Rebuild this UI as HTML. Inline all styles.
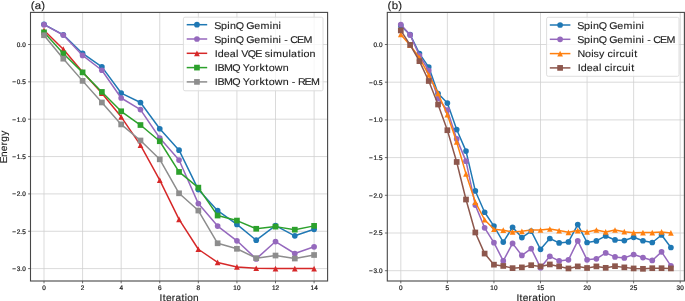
<!DOCTYPE html>
<html><head><meta charset="utf-8"><title>VQE energy vs iteration</title>
<style>
html,body{margin:0;padding:0;background:#ffffff;}
body{width:685px;height:301px;overflow:hidden;}
svg{display:block;}
text{font-family:"Liberation Sans",sans-serif;text-rendering:geometricPrecision;font-kerning:none;}
</style></head><body>
<svg width="685" height="301" viewBox="0 0 685 301">
<defs>
<clipPath id="ca"><rect x="30.5" y="12.4" width="297.1" height="268.6"/></clipPath>
<clipPath id="cb"><rect x="387.3" y="12.4" width="297.1" height="268.6"/></clipPath>
<filter id="bl" filterUnits="userSpaceOnUse" x="0" y="0" width="685" height="301"><feGaussianBlur stdDeviation="0.3"/></filter>
</defs>
<rect width="685" height="301" fill="#ffffff"/>
<g opacity="0.99" filter="url(#bl)">
<path d="M44 12.4V281M82.59 12.4V281M121.17 12.4V281M159.76 12.4V281M198.34 12.4V281M236.93 12.4V281M275.51 12.4V281M314.1 12.4V281M30.5 44.5H327.6M30.5 81.85H327.6M30.5 119.2H327.6M30.5 156.55H327.6M30.5 193.9H327.6M30.5 231.25H327.6M30.5 268.6H327.6" stroke="#cfcfcf" stroke-width="0.8" fill="none"/>
<g clip-path="url(#ca)">
<polyline fill="none" stroke="#1f77b4" stroke-width="1.5" stroke-linejoin="round" points="44,24.33 63.3,34.79 82.59,53.46 101.88,66.91 121.17,93.06 140.47,102.54 159.76,128.76 179.05,150.13 198.34,189.57 217.63,210.71 236.93,224.38 256.22,240.21 275.51,225.57 294.8,235.81 314.1,229.31"/>
<circle cx="44" cy="24.33" r="2.85" fill="#1f77b4"/>
<circle cx="63.3" cy="34.79" r="2.85" fill="#1f77b4"/>
<circle cx="82.59" cy="53.46" r="2.85" fill="#1f77b4"/>
<circle cx="101.88" cy="66.91" r="2.85" fill="#1f77b4"/>
<circle cx="121.17" cy="93.06" r="2.85" fill="#1f77b4"/>
<circle cx="140.47" cy="102.54" r="2.85" fill="#1f77b4"/>
<circle cx="159.76" cy="128.76" r="2.85" fill="#1f77b4"/>
<circle cx="179.05" cy="150.13" r="2.85" fill="#1f77b4"/>
<circle cx="198.34" cy="189.57" r="2.85" fill="#1f77b4"/>
<circle cx="217.63" cy="210.71" r="2.85" fill="#1f77b4"/>
<circle cx="236.93" cy="224.38" r="2.85" fill="#1f77b4"/>
<circle cx="256.22" cy="240.21" r="2.85" fill="#1f77b4"/>
<circle cx="275.51" cy="225.57" r="2.85" fill="#1f77b4"/>
<circle cx="294.8" cy="235.81" r="2.85" fill="#1f77b4"/>
<circle cx="314.1" cy="229.31" r="2.85" fill="#1f77b4"/>
<polyline fill="none" stroke="#9467bd" stroke-width="1.5" stroke-linejoin="round" points="44,24.7 63.3,35.01 82.59,55.41 101.88,70.27 121.17,97.99 140.47,109.56 159.76,138.02 179.05,160.06 198.34,203.61 217.63,226.1 236.93,240.81 256.22,258.89 275.51,241.56 294.8,253.51 314.1,246.79"/>
<circle cx="44" cy="24.7" r="2.85" fill="#9467bd"/>
<circle cx="63.3" cy="35.01" r="2.85" fill="#9467bd"/>
<circle cx="82.59" cy="55.41" r="2.85" fill="#9467bd"/>
<circle cx="101.88" cy="70.27" r="2.85" fill="#9467bd"/>
<circle cx="121.17" cy="97.99" r="2.85" fill="#9467bd"/>
<circle cx="140.47" cy="109.56" r="2.85" fill="#9467bd"/>
<circle cx="159.76" cy="138.02" r="2.85" fill="#9467bd"/>
<circle cx="179.05" cy="160.06" r="2.85" fill="#9467bd"/>
<circle cx="198.34" cy="203.61" r="2.85" fill="#9467bd"/>
<circle cx="217.63" cy="226.1" r="2.85" fill="#9467bd"/>
<circle cx="236.93" cy="240.81" r="2.85" fill="#9467bd"/>
<circle cx="256.22" cy="258.89" r="2.85" fill="#9467bd"/>
<circle cx="275.51" cy="241.56" r="2.85" fill="#9467bd"/>
<circle cx="294.8" cy="253.51" r="2.85" fill="#9467bd"/>
<circle cx="314.1" cy="246.79" r="2.85" fill="#9467bd"/>
<polyline fill="none" stroke="#d62728" stroke-width="1.5" stroke-linejoin="round" points="44,30.31 63.3,49.21 82.59,71.99 101.88,93.2 121.17,116.81 140.47,145.05 159.76,180.08 179.05,219.3 198.34,249.25 217.63,262.47 236.93,266.96 256.22,268.23 275.51,268.6 294.8,268.6 314.1,268.6"/>
<path d="M44 27.46L46.85 33.16L41.15 33.16Z" fill="#d62728"/>
<path d="M63.3 46.36L66.15 52.06L60.45 52.06Z" fill="#d62728"/>
<path d="M82.59 69.14L85.44 74.84L79.74 74.84Z" fill="#d62728"/>
<path d="M101.88 90.35L104.73 96.05L99.03 96.05Z" fill="#d62728"/>
<path d="M121.17 113.96L124.02 119.66L118.32 119.66Z" fill="#d62728"/>
<path d="M140.47 142.2L143.32 147.9L137.62 147.9Z" fill="#d62728"/>
<path d="M159.76 177.23L162.61 182.93L156.91 182.93Z" fill="#d62728"/>
<path d="M179.05 216.45L181.9 222.15L176.2 222.15Z" fill="#d62728"/>
<path d="M198.34 246.4L201.19 252.1L195.49 252.1Z" fill="#d62728"/>
<path d="M217.63 259.62L220.48 265.32L214.78 265.32Z" fill="#d62728"/>
<path d="M236.93 264.11L239.78 269.81L234.08 269.81Z" fill="#d62728"/>
<path d="M256.22 265.38L259.07 271.08L253.37 271.08Z" fill="#d62728"/>
<path d="M275.51 265.75L278.36 271.45L272.66 271.45Z" fill="#d62728"/>
<path d="M294.8 265.75L297.65 271.45L291.95 271.45Z" fill="#d62728"/>
<path d="M314.1 265.75L316.95 271.45L311.25 271.45Z" fill="#d62728"/>
<polyline fill="none" stroke="#2ca02c" stroke-width="1.5" stroke-linejoin="round" points="44,32.32 63.3,53.46 82.59,72.36 101.88,91.93 121.17,111.28 140.47,125.03 159.76,141.24 179.05,171.94 198.34,187.63 217.63,215.56 236.93,220.57 256.22,228.78 275.51,226.62 294.8,229.68 314.1,225.87"/>
<rect x="41.15" y="29.47" width="5.7" height="5.7" fill="#2ca02c"/>
<rect x="60.45" y="50.61" width="5.7" height="5.7" fill="#2ca02c"/>
<rect x="79.74" y="69.51" width="5.7" height="5.7" fill="#2ca02c"/>
<rect x="99.03" y="89.08" width="5.7" height="5.7" fill="#2ca02c"/>
<rect x="118.32" y="108.43" width="5.7" height="5.7" fill="#2ca02c"/>
<rect x="137.62" y="122.18" width="5.7" height="5.7" fill="#2ca02c"/>
<rect x="156.91" y="138.39" width="5.7" height="5.7" fill="#2ca02c"/>
<rect x="176.2" y="169.09" width="5.7" height="5.7" fill="#2ca02c"/>
<rect x="195.49" y="184.78" width="5.7" height="5.7" fill="#2ca02c"/>
<rect x="214.78" y="212.71" width="5.7" height="5.7" fill="#2ca02c"/>
<rect x="234.08" y="217.72" width="5.7" height="5.7" fill="#2ca02c"/>
<rect x="253.37" y="225.93" width="5.7" height="5.7" fill="#2ca02c"/>
<rect x="272.66" y="223.77" width="5.7" height="5.7" fill="#2ca02c"/>
<rect x="291.95" y="226.83" width="5.7" height="5.7" fill="#2ca02c"/>
<rect x="311.25" y="223.02" width="5.7" height="5.7" fill="#2ca02c"/>
<polyline fill="none" stroke="#8c8c8c" stroke-width="1.5" stroke-linejoin="round" points="44,35.24 63.3,58.69 82.59,80.88 101.88,102.47 121.17,124.43 140.47,140.49 159.76,159.31 179.05,193.3 198.34,210.56 217.63,243.28 236.93,248.8 256.22,258.14 275.51,255.53 294.8,258.52 314.1,255"/>
<rect x="41.15" y="32.39" width="5.7" height="5.7" fill="#8c8c8c"/>
<rect x="60.45" y="55.84" width="5.7" height="5.7" fill="#8c8c8c"/>
<rect x="79.74" y="78.03" width="5.7" height="5.7" fill="#8c8c8c"/>
<rect x="99.03" y="99.62" width="5.7" height="5.7" fill="#8c8c8c"/>
<rect x="118.32" y="121.58" width="5.7" height="5.7" fill="#8c8c8c"/>
<rect x="137.62" y="137.64" width="5.7" height="5.7" fill="#8c8c8c"/>
<rect x="156.91" y="156.46" width="5.7" height="5.7" fill="#8c8c8c"/>
<rect x="176.2" y="190.45" width="5.7" height="5.7" fill="#8c8c8c"/>
<rect x="195.49" y="207.71" width="5.7" height="5.7" fill="#8c8c8c"/>
<rect x="214.78" y="240.43" width="5.7" height="5.7" fill="#8c8c8c"/>
<rect x="234.08" y="245.95" width="5.7" height="5.7" fill="#8c8c8c"/>
<rect x="253.37" y="255.29" width="5.7" height="5.7" fill="#8c8c8c"/>
<rect x="272.66" y="252.68" width="5.7" height="5.7" fill="#8c8c8c"/>
<rect x="291.95" y="255.67" width="5.7" height="5.7" fill="#8c8c8c"/>
<rect x="311.25" y="252.15" width="5.7" height="5.7" fill="#8c8c8c"/>
</g>
<text transform="translate(42.16 290.1) scale(0.11000 0.11400)" x="0.64" font-size="58" fill="#1a1a1a" stroke="#1a1a1a" stroke-width="2">0</text>
<text transform="translate(80.74 290.1) scale(0.11000 0.11400)" x="0.64" font-size="58" fill="#1a1a1a" stroke="#1a1a1a" stroke-width="2">2</text>
<text transform="translate(119.33 290.1) scale(0.11000 0.11400)" x="0.64" font-size="58" fill="#1a1a1a" stroke="#1a1a1a" stroke-width="2">4</text>
<text transform="translate(157.91 290.1) scale(0.11000 0.11400)" x="0.64" font-size="58" fill="#1a1a1a" stroke="#1a1a1a" stroke-width="2">6</text>
<text transform="translate(196.5 290.1) scale(0.11000 0.11400)" x="0.64" font-size="58" fill="#1a1a1a" stroke="#1a1a1a" stroke-width="2">8</text>
<text transform="translate(233.24 290.1) scale(0.11000 0.11400)" x="0.64 34.17" font-size="58" fill="#1a1a1a" stroke="#1a1a1a" stroke-width="2">10</text>
<text transform="translate(271.82 290.1) scale(0.11000 0.11400)" x="0.64 34.17" font-size="58" fill="#1a1a1a" stroke="#1a1a1a" stroke-width="2">12</text>
<text transform="translate(310.41 290.1) scale(0.11000 0.11400)" x="0.64 34.17" font-size="58" fill="#1a1a1a" stroke="#1a1a1a" stroke-width="2">14</text>
<text transform="translate(16.58 46.9) scale(0.11000 0.11400)" x="0.64 33.86 50.94" font-size="58" fill="#1a1a1a" stroke="#1a1a1a" stroke-width="2">0.0</text>
<text transform="translate(11.72 84.25) scale(0.11000 0.11400)" x="5.16 44.82 78.05 95.12" font-size="58" fill="#1a1a1a" stroke="#1a1a1a" stroke-width="2">−0.5</text>
<text transform="translate(11.72 121.6) scale(0.11000 0.11400)" x="5.16 44.82 78.05 95.12" font-size="58" fill="#1a1a1a" stroke="#1a1a1a" stroke-width="2">−1.0</text>
<text transform="translate(11.72 158.95) scale(0.11000 0.11400)" x="5.16 44.82 78.05 95.12" font-size="58" fill="#1a1a1a" stroke="#1a1a1a" stroke-width="2">−1.5</text>
<text transform="translate(11.72 196.3) scale(0.11000 0.11400)" x="5.16 44.82 78.05 95.12" font-size="58" fill="#1a1a1a" stroke="#1a1a1a" stroke-width="2">−2.0</text>
<text transform="translate(11.72 233.65) scale(0.11000 0.11400)" x="5.16 44.82 78.05 95.12" font-size="58" fill="#1a1a1a" stroke="#1a1a1a" stroke-width="2">−2.5</text>
<text transform="translate(11.72 271) scale(0.11000 0.11400)" x="5.16 44.82 78.05 95.12" font-size="58" fill="#1a1a1a" stroke="#1a1a1a" stroke-width="2">−3.0</text>
<path d="M44 281v2.3M82.59 281v2.3M121.17 281v2.3M159.76 281v2.3M198.34 281v2.3M236.93 281v2.3M275.51 281v2.3M314.1 281v2.3M30.5 44.5h-2.4M30.5 81.85h-2.4M30.5 119.2h-2.4M30.5 156.55h-2.4M30.5 193.9h-2.4M30.5 231.25h-2.4M30.5 268.6h-2.4" stroke="#454545" stroke-width="0.8" fill="none"/>
<rect x="30.5" y="12.4" width="297.1" height="268.6" fill="none" stroke="#454545" stroke-width="1.1"/>
<text transform="translate(30.7 8.5) scale(0.11000 0.10200)" x="1.12 36.93 95.95" font-size="104" fill="#1a1a1a" stroke="#1a1a1a" stroke-width="1.2">(a)</text>
<text transform="translate(159.64 300.9) scale(0.11000 0.10700)" x="-0.44 28.29 57.59 110.76 143.32 198.15 228.73 250.58 302.69" font-size="92" fill="#1a1a1a" stroke="#1a1a1a" stroke-width="1.2">Iteration</text>
<text transform="translate(6.7 146.7) rotate(-90) translate(-16.19 0) scale(0.11000 0.10700)" x="-4.25 53.79 106.02 159.19 192.66 246.56" font-size="92" fill="#1a1a1a" stroke="#1a1a1a" stroke-width="1.2">Energy</text>
<rect x="183.4" y="17.2" width="139.6" height="73.6" rx="1.6" ry="1.6" fill="#ffffff" fill-opacity="0.8" stroke="#dadada" stroke-width="0.9"/>
<path d="M186.7 24.7H207.2" stroke="#1f77b4" stroke-width="1.5"/>
<circle cx="196.95" cy="24.7" r="2.85" fill="#1f77b4"/>
<text transform="translate(214.8 28.5) scale(0.11000 0.10200)" x="-4.35 57.02 113.47 137.48 189.39 262.36 286.3 358.33 414.97 499.8 523.81 580.22" font-size="97" fill="#1a1a1a" stroke="#1a1a1a" stroke-width="1.2">SpinQ Gemini</text>
<path d="M186.7 39H207.2" stroke="#9467bd" stroke-width="1.5"/>
<circle cx="196.95" cy="39" r="2.85" fill="#9467bd"/>
<text transform="translate(214.8 42.7) scale(0.11000 0.10200)" x="-4.35 57.02 113.47 137.48 189.39 262.36 286.3 358.33 414.97 499.8 523.81 580.22 603.8 631.06 663.67 686.92 748.24 806.1" font-size="97" fill="#1a1a1a" stroke="#1a1a1a" stroke-width="1.2">SpinQ Gemini - CEM</text>
<path d="M186.7 53.3H207.2" stroke="#d62728" stroke-width="1.5"/>
<path d="M196.95 50.45L199.8 56.15L194.1 56.15Z" fill="#d62728"/>
<text transform="translate(214.8 56.9) scale(0.11000 0.10200)" x="-0.47 27.04 82.15 136.29 191.78 215.36 240.66 300.15 368.08 428.85 455.06 503.76 529.34 613.67 670.08 693.16 750.97 783.21 806.25 861.19" font-size="97" fill="#1a1a1a" stroke="#1a1a1a" stroke-width="1.2">Ideal VQE simulation</text>
<path d="M186.7 67.6H207.2" stroke="#2ca02c" stroke-width="1.5"/>
<rect x="194.1" y="64.75" width="5.7" height="5.7" fill="#2ca02c"/>
<text transform="translate(214.8 71.1) scale(0.11000 0.10200)" x="-0.47 23.91 84.16 159.58 232.55 254.64 313.94 369.87 405.42 459 489.77 544.77 616.84" font-size="97" fill="#1a1a1a" stroke="#1a1a1a" stroke-width="1.2">IBMQ Yorktown</text>
<path d="M186.7 81.9H207.2" stroke="#8c8c8c" stroke-width="1.5"/>
<rect x="194.1" y="79.05" width="5.7" height="5.7" fill="#8c8c8c"/>
<text transform="translate(214.8 85.3) scale(0.11000 0.10200)" x="-0.47 23.91 84.16 159.58 232.55 254.64 313.94 369.87 405.42 459 489.77 544.77 616.84 672.32 699.58 732.19 755.3 816.49 874.35" font-size="97" fill="#1a1a1a" stroke="#1a1a1a" stroke-width="1.2">IBMQ Yorktown - REM</text>
<path d="M400.8 12.4V281M447.37 12.4V281M493.94 12.4V281M540.51 12.4V281M587.07 12.4V281M633.64 12.4V281M680.21 12.4V281M387.3 44.5H684.4M387.3 82.2H684.4M387.3 119.9H684.4M387.3 157.6H684.4M387.3 195.3H684.4M387.3 233H684.4M387.3 270.7H684.4" stroke="#cfcfcf" stroke-width="0.8" fill="none"/>
<g clip-path="url(#cb)">
<polyline fill="none" stroke="#1f77b4" stroke-width="1.5" stroke-linejoin="round" points="400.8,25.65 410.12,34.7 419.43,53.55 428.74,67.12 438.06,93.51 447.37,103.09 456.69,129.55 466,151.12 475.31,190.93 484.63,212.27 493.94,226.06 503.25,242.05 512.57,227.27 521.88,237.6 531.19,231.04 540.51,249.29 549.82,238.5 559.13,242.88 568.45,241.9 577.76,224.56 587.07,242.5 596.39,240.92 605.7,235.94 615.01,239.94 624.33,240.54 633.64,237.3 642.96,240.77 652.27,242.5 661.58,234.96 670.9,247.48"/>
<circle cx="400.8" cy="25.65" r="2.85" fill="#1f77b4"/>
<circle cx="410.12" cy="34.7" r="2.85" fill="#1f77b4"/>
<circle cx="419.43" cy="53.55" r="2.85" fill="#1f77b4"/>
<circle cx="428.74" cy="67.12" r="2.85" fill="#1f77b4"/>
<circle cx="438.06" cy="93.51" r="2.85" fill="#1f77b4"/>
<circle cx="447.37" cy="103.09" r="2.85" fill="#1f77b4"/>
<circle cx="456.69" cy="129.55" r="2.85" fill="#1f77b4"/>
<circle cx="466" cy="151.12" r="2.85" fill="#1f77b4"/>
<circle cx="475.31" cy="190.93" r="2.85" fill="#1f77b4"/>
<circle cx="484.63" cy="212.27" r="2.85" fill="#1f77b4"/>
<circle cx="493.94" cy="226.06" r="2.85" fill="#1f77b4"/>
<circle cx="503.25" cy="242.05" r="2.85" fill="#1f77b4"/>
<circle cx="512.57" cy="227.27" r="2.85" fill="#1f77b4"/>
<circle cx="521.88" cy="237.6" r="2.85" fill="#1f77b4"/>
<circle cx="531.19" cy="231.04" r="2.85" fill="#1f77b4"/>
<circle cx="540.51" cy="249.29" r="2.85" fill="#1f77b4"/>
<circle cx="549.82" cy="238.5" r="2.85" fill="#1f77b4"/>
<circle cx="559.13" cy="242.88" r="2.85" fill="#1f77b4"/>
<circle cx="568.45" cy="241.9" r="2.85" fill="#1f77b4"/>
<circle cx="577.76" cy="224.56" r="2.85" fill="#1f77b4"/>
<circle cx="587.07" cy="242.5" r="2.85" fill="#1f77b4"/>
<circle cx="596.39" cy="240.92" r="2.85" fill="#1f77b4"/>
<circle cx="605.7" cy="235.94" r="2.85" fill="#1f77b4"/>
<circle cx="615.01" cy="239.94" r="2.85" fill="#1f77b4"/>
<circle cx="624.33" cy="240.54" r="2.85" fill="#1f77b4"/>
<circle cx="633.64" cy="237.3" r="2.85" fill="#1f77b4"/>
<circle cx="642.96" cy="240.77" r="2.85" fill="#1f77b4"/>
<circle cx="652.27" cy="242.5" r="2.85" fill="#1f77b4"/>
<circle cx="661.58" cy="234.96" r="2.85" fill="#1f77b4"/>
<circle cx="670.9" cy="247.48" r="2.85" fill="#1f77b4"/>
<polyline fill="none" stroke="#9467bd" stroke-width="1.5" stroke-linejoin="round" points="400.8,24.52 410.12,34.92 419.43,55.51 428.74,70.51 438.06,98.49 447.37,110.17 456.69,138.9 466,161.14 475.31,205.1 484.63,227.8 493.94,242.65 503.25,260.9 512.57,243.41 521.88,255.47 531.19,248.68 540.51,267.68 549.82,256.3 559.13,260.9 568.45,259.84 577.76,240.92 587.07,259.84 596.39,258.86 605.7,252.91 615.01,256.9 624.33,257.88 633.64,254.49 642.96,257.58 652.27,260.45 661.58,251.85 670.9,265.8"/>
<circle cx="400.8" cy="24.52" r="2.85" fill="#9467bd"/>
<circle cx="410.12" cy="34.92" r="2.85" fill="#9467bd"/>
<circle cx="419.43" cy="55.51" r="2.85" fill="#9467bd"/>
<circle cx="428.74" cy="70.51" r="2.85" fill="#9467bd"/>
<circle cx="438.06" cy="98.49" r="2.85" fill="#9467bd"/>
<circle cx="447.37" cy="110.17" r="2.85" fill="#9467bd"/>
<circle cx="456.69" cy="138.9" r="2.85" fill="#9467bd"/>
<circle cx="466" cy="161.14" r="2.85" fill="#9467bd"/>
<circle cx="475.31" cy="205.1" r="2.85" fill="#9467bd"/>
<circle cx="484.63" cy="227.8" r="2.85" fill="#9467bd"/>
<circle cx="493.94" cy="242.65" r="2.85" fill="#9467bd"/>
<circle cx="503.25" cy="260.9" r="2.85" fill="#9467bd"/>
<circle cx="512.57" cy="243.41" r="2.85" fill="#9467bd"/>
<circle cx="521.88" cy="255.47" r="2.85" fill="#9467bd"/>
<circle cx="531.19" cy="248.68" r="2.85" fill="#9467bd"/>
<circle cx="540.51" cy="267.68" r="2.85" fill="#9467bd"/>
<circle cx="549.82" cy="256.3" r="2.85" fill="#9467bd"/>
<circle cx="559.13" cy="260.9" r="2.85" fill="#9467bd"/>
<circle cx="568.45" cy="259.84" r="2.85" fill="#9467bd"/>
<circle cx="577.76" cy="240.92" r="2.85" fill="#9467bd"/>
<circle cx="587.07" cy="259.84" r="2.85" fill="#9467bd"/>
<circle cx="596.39" cy="258.86" r="2.85" fill="#9467bd"/>
<circle cx="605.7" cy="252.91" r="2.85" fill="#9467bd"/>
<circle cx="615.01" cy="256.9" r="2.85" fill="#9467bd"/>
<circle cx="624.33" cy="257.88" r="2.85" fill="#9467bd"/>
<circle cx="633.64" cy="254.49" r="2.85" fill="#9467bd"/>
<circle cx="642.96" cy="257.58" r="2.85" fill="#9467bd"/>
<circle cx="652.27" cy="260.45" r="2.85" fill="#9467bd"/>
<circle cx="661.58" cy="251.85" r="2.85" fill="#9467bd"/>
<circle cx="670.9" cy="265.8" r="2.85" fill="#9467bd"/>
<polyline fill="none" stroke="#ff7f0e" stroke-width="1.5" stroke-linejoin="round" points="400.8,34.47 410.12,45.25 419.43,57.77 428.74,74.81 438.06,93.43 447.37,114.7 456.69,141.92 466,173.89 475.31,202.09 484.63,219.73 493.94,229.23 503.25,230.21 512.57,231.94 521.88,231.34 531.19,229.98 540.51,229.98 549.82,229 559.13,230.59 568.45,232.32 577.76,230.59 587.07,231.94 596.39,229.98 605.7,231.94 615.01,229.98 624.33,231.72 633.64,232.7 642.96,232.62 652.27,232.55 661.58,231.94 670.9,232.92"/>
<path d="M400.8 31.62L403.65 37.32L397.95 37.32Z" fill="#ff7f0e"/>
<path d="M410.12 42.4L412.97 48.1L407.27 48.1Z" fill="#ff7f0e"/>
<path d="M419.43 54.92L422.28 60.62L416.58 60.62Z" fill="#ff7f0e"/>
<path d="M428.74 71.96L431.59 77.66L425.89 77.66Z" fill="#ff7f0e"/>
<path d="M438.06 90.58L440.91 96.28L435.21 96.28Z" fill="#ff7f0e"/>
<path d="M447.37 111.85L450.22 117.55L444.52 117.55Z" fill="#ff7f0e"/>
<path d="M456.69 139.07L459.54 144.77L453.84 144.77Z" fill="#ff7f0e"/>
<path d="M466 171.04L468.85 176.74L463.15 176.74Z" fill="#ff7f0e"/>
<path d="M475.31 199.24L478.16 204.94L472.46 204.94Z" fill="#ff7f0e"/>
<path d="M484.63 216.88L487.48 222.58L481.78 222.58Z" fill="#ff7f0e"/>
<path d="M493.94 226.38L496.79 232.08L491.09 232.08Z" fill="#ff7f0e"/>
<path d="M503.25 227.36L506.1 233.06L500.4 233.06Z" fill="#ff7f0e"/>
<path d="M512.57 229.09L515.42 234.79L509.72 234.79Z" fill="#ff7f0e"/>
<path d="M521.88 228.49L524.73 234.19L519.03 234.19Z" fill="#ff7f0e"/>
<path d="M531.19 227.13L534.04 232.83L528.34 232.83Z" fill="#ff7f0e"/>
<path d="M540.51 227.13L543.36 232.83L537.66 232.83Z" fill="#ff7f0e"/>
<path d="M549.82 226.15L552.67 231.85L546.97 231.85Z" fill="#ff7f0e"/>
<path d="M559.13 227.74L561.98 233.44L556.28 233.44Z" fill="#ff7f0e"/>
<path d="M568.45 229.47L571.3 235.17L565.6 235.17Z" fill="#ff7f0e"/>
<path d="M577.76 227.74L580.61 233.44L574.91 233.44Z" fill="#ff7f0e"/>
<path d="M587.07 229.09L589.92 234.79L584.22 234.79Z" fill="#ff7f0e"/>
<path d="M596.39 227.13L599.24 232.83L593.54 232.83Z" fill="#ff7f0e"/>
<path d="M605.7 229.09L608.55 234.79L602.85 234.79Z" fill="#ff7f0e"/>
<path d="M615.01 227.13L617.86 232.83L612.16 232.83Z" fill="#ff7f0e"/>
<path d="M624.33 228.87L627.18 234.57L621.48 234.57Z" fill="#ff7f0e"/>
<path d="M633.64 229.85L636.49 235.55L630.79 235.55Z" fill="#ff7f0e"/>
<path d="M642.96 229.77L645.81 235.47L640.11 235.47Z" fill="#ff7f0e"/>
<path d="M652.27 229.7L655.12 235.4L649.42 235.4Z" fill="#ff7f0e"/>
<path d="M661.58 229.09L664.43 234.79L658.73 234.79Z" fill="#ff7f0e"/>
<path d="M670.9 230.07L673.75 235.77L668.05 235.77Z" fill="#ff7f0e"/>
<polyline fill="none" stroke="#8c564b" stroke-width="1.5" stroke-linejoin="round" points="400.8,30.4 410.12,44.88 419.43,61.16 428.74,80.99 438.06,104.52 447.37,130.23 456.69,161.97 466,199.52 475.31,232.47 484.63,253.58 493.94,264.67 503.25,265.95 512.57,268.14 521.88,267.38 531.19,265.2 540.51,266.4 549.82,264.44 559.13,266.4 568.45,268.44 577.76,266.4 587.07,267.99 596.39,266.4 605.7,267.83 615.01,266.18 624.33,267.38 633.64,268.44 642.96,268.82 652.27,268.21 661.58,268.21 670.9,268.44"/>
<rect x="397.95" y="27.55" width="5.7" height="5.7" fill="#8c564b"/>
<rect x="407.27" y="42.03" width="5.7" height="5.7" fill="#8c564b"/>
<rect x="416.58" y="58.31" width="5.7" height="5.7" fill="#8c564b"/>
<rect x="425.89" y="78.14" width="5.7" height="5.7" fill="#8c564b"/>
<rect x="435.21" y="101.67" width="5.7" height="5.7" fill="#8c564b"/>
<rect x="444.52" y="127.38" width="5.7" height="5.7" fill="#8c564b"/>
<rect x="453.84" y="159.12" width="5.7" height="5.7" fill="#8c564b"/>
<rect x="463.15" y="196.67" width="5.7" height="5.7" fill="#8c564b"/>
<rect x="472.46" y="229.62" width="5.7" height="5.7" fill="#8c564b"/>
<rect x="481.78" y="250.73" width="5.7" height="5.7" fill="#8c564b"/>
<rect x="491.09" y="261.82" width="5.7" height="5.7" fill="#8c564b"/>
<rect x="500.4" y="263.1" width="5.7" height="5.7" fill="#8c564b"/>
<rect x="509.72" y="265.29" width="5.7" height="5.7" fill="#8c564b"/>
<rect x="519.03" y="264.53" width="5.7" height="5.7" fill="#8c564b"/>
<rect x="528.34" y="262.35" width="5.7" height="5.7" fill="#8c564b"/>
<rect x="537.66" y="263.55" width="5.7" height="5.7" fill="#8c564b"/>
<rect x="546.97" y="261.59" width="5.7" height="5.7" fill="#8c564b"/>
<rect x="556.28" y="263.55" width="5.7" height="5.7" fill="#8c564b"/>
<rect x="565.6" y="265.59" width="5.7" height="5.7" fill="#8c564b"/>
<rect x="574.91" y="263.55" width="5.7" height="5.7" fill="#8c564b"/>
<rect x="584.22" y="265.14" width="5.7" height="5.7" fill="#8c564b"/>
<rect x="593.54" y="263.55" width="5.7" height="5.7" fill="#8c564b"/>
<rect x="602.85" y="264.98" width="5.7" height="5.7" fill="#8c564b"/>
<rect x="612.16" y="263.33" width="5.7" height="5.7" fill="#8c564b"/>
<rect x="621.48" y="264.53" width="5.7" height="5.7" fill="#8c564b"/>
<rect x="630.79" y="265.59" width="5.7" height="5.7" fill="#8c564b"/>
<rect x="640.11" y="265.97" width="5.7" height="5.7" fill="#8c564b"/>
<rect x="649.42" y="265.36" width="5.7" height="5.7" fill="#8c564b"/>
<rect x="658.73" y="265.36" width="5.7" height="5.7" fill="#8c564b"/>
<rect x="668.05" y="265.59" width="5.7" height="5.7" fill="#8c564b"/>
</g>
<text transform="translate(398.96 290.1) scale(0.11000 0.11400)" x="0.64" font-size="58" fill="#1a1a1a" stroke="#1a1a1a" stroke-width="2">0</text>
<text transform="translate(445.53 290.1) scale(0.11000 0.11400)" x="0.64" font-size="58" fill="#1a1a1a" stroke="#1a1a1a" stroke-width="2">5</text>
<text transform="translate(490.25 290.1) scale(0.11000 0.11400)" x="0.64 34.17" font-size="58" fill="#1a1a1a" stroke="#1a1a1a" stroke-width="2">10</text>
<text transform="translate(536.82 290.1) scale(0.11000 0.11400)" x="0.64 34.17" font-size="58" fill="#1a1a1a" stroke="#1a1a1a" stroke-width="2">15</text>
<text transform="translate(583.39 290.1) scale(0.11000 0.11400)" x="0.64 34.17" font-size="58" fill="#1a1a1a" stroke="#1a1a1a" stroke-width="2">20</text>
<text transform="translate(629.95 290.1) scale(0.11000 0.11400)" x="0.64 34.17" font-size="58" fill="#1a1a1a" stroke="#1a1a1a" stroke-width="2">25</text>
<text transform="translate(676.52 290.1) scale(0.11000 0.11400)" x="0.64 34.17" font-size="58" fill="#1a1a1a" stroke="#1a1a1a" stroke-width="2">30</text>
<text transform="translate(373.38 46.9) scale(0.11000 0.11400)" x="0.64 33.86 50.94" font-size="58" fill="#1a1a1a" stroke="#1a1a1a" stroke-width="2">0.0</text>
<text transform="translate(368.52 84.6) scale(0.11000 0.11400)" x="5.16 44.82 78.05 95.12" font-size="58" fill="#1a1a1a" stroke="#1a1a1a" stroke-width="2">−0.5</text>
<text transform="translate(368.52 122.3) scale(0.11000 0.11400)" x="5.16 44.82 78.05 95.12" font-size="58" fill="#1a1a1a" stroke="#1a1a1a" stroke-width="2">−1.0</text>
<text transform="translate(368.52 160) scale(0.11000 0.11400)" x="5.16 44.82 78.05 95.12" font-size="58" fill="#1a1a1a" stroke="#1a1a1a" stroke-width="2">−1.5</text>
<text transform="translate(368.52 197.7) scale(0.11000 0.11400)" x="5.16 44.82 78.05 95.12" font-size="58" fill="#1a1a1a" stroke="#1a1a1a" stroke-width="2">−2.0</text>
<text transform="translate(368.52 235.4) scale(0.11000 0.11400)" x="5.16 44.82 78.05 95.12" font-size="58" fill="#1a1a1a" stroke="#1a1a1a" stroke-width="2">−2.5</text>
<text transform="translate(368.52 273.1) scale(0.11000 0.11400)" x="5.16 44.82 78.05 95.12" font-size="58" fill="#1a1a1a" stroke="#1a1a1a" stroke-width="2">−3.0</text>
<path d="M400.8 281v2.3M447.37 281v2.3M493.94 281v2.3M540.51 281v2.3M587.07 281v2.3M633.64 281v2.3M680.21 281v2.3M387.3 44.5h-2.4M387.3 82.2h-2.4M387.3 119.9h-2.4M387.3 157.6h-2.4M387.3 195.3h-2.4M387.3 233h-2.4M387.3 270.7h-2.4" stroke="#454545" stroke-width="0.8" fill="none"/>
<rect x="387.3" y="12.4" width="297.1" height="268.6" fill="none" stroke="#454545" stroke-width="1.1"/>
<text transform="translate(387.5 8.5) scale(0.11000 0.10200)" x="1.12 37.97 98.03" font-size="104" fill="#1a1a1a" stroke="#1a1a1a" stroke-width="1.2">(b)</text>
<text transform="translate(516.44 300.9) scale(0.11000 0.10700)" x="-0.44 28.29 57.59 110.76 143.32 198.15 228.73 250.58 302.69" font-size="92" fill="#1a1a1a" stroke="#1a1a1a" stroke-width="1.2">Iteration</text>
<rect x="546.6" y="17.3" width="132.4" height="59" rx="1.6" ry="1.6" fill="#ffffff" fill-opacity="0.8" stroke="#dadada" stroke-width="0.9"/>
<path d="M549.8 25H570.4" stroke="#1f77b4" stroke-width="1.5"/>
<circle cx="560.1" cy="25" r="2.85" fill="#1f77b4"/>
<text transform="translate(577.8 28.8) scale(0.11000 0.10200)" x="-4.35 57.02 113.47 137.48 189.39 262.36 286.3 358.33 414.97 499.8 523.81 580.22" font-size="97" fill="#1a1a1a" stroke="#1a1a1a" stroke-width="1.2">SpinQ Gemini</text>
<path d="M549.8 39.3H570.4" stroke="#9467bd" stroke-width="1.5"/>
<circle cx="560.1" cy="39.3" r="2.85" fill="#9467bd"/>
<text transform="translate(577.8 43) scale(0.11000 0.10200)" x="-4.35 57.02 113.47 137.48 189.39 262.36 286.3 358.33 414.97 499.8 523.81 580.22 603.8 631.06 663.67 686.92 748.24 806.1" font-size="97" fill="#1a1a1a" stroke="#1a1a1a" stroke-width="1.2">SpinQ Gemini - CEM</text>
<path d="M549.8 53.6H570.4" stroke="#ff7f0e" stroke-width="1.5"/>
<path d="M560.1 50.75L562.95 56.45L557.25 56.45Z" fill="#ff7f0e"/>
<text transform="translate(577.8 57.2) scale(0.11000 0.10200)" x="-2.05 65.97 121.41 143.16 192.24 243.14 270.63 320.61 345.62 379.89 429.37 485.78 512.62" font-size="97" fill="#1a1a1a" stroke="#1a1a1a" stroke-width="1.2">Noisy circuit</text>
<path d="M549.8 67.9H570.4" stroke="#8c564b" stroke-width="1.5"/>
<rect x="557.25" y="65.05" width="5.7" height="5.7" fill="#8c564b"/>
<text transform="translate(577.8 71.4) scale(0.11000 0.10200)" x="-0.47 27.04 82.15 136.29 191.78 215.36 242.85 292.83 317.84 352.11 401.59 458 484.84" font-size="97" fill="#1a1a1a" stroke="#1a1a1a" stroke-width="1.2">Ideal circuit</text>
</g>
</svg>
</body></html>
